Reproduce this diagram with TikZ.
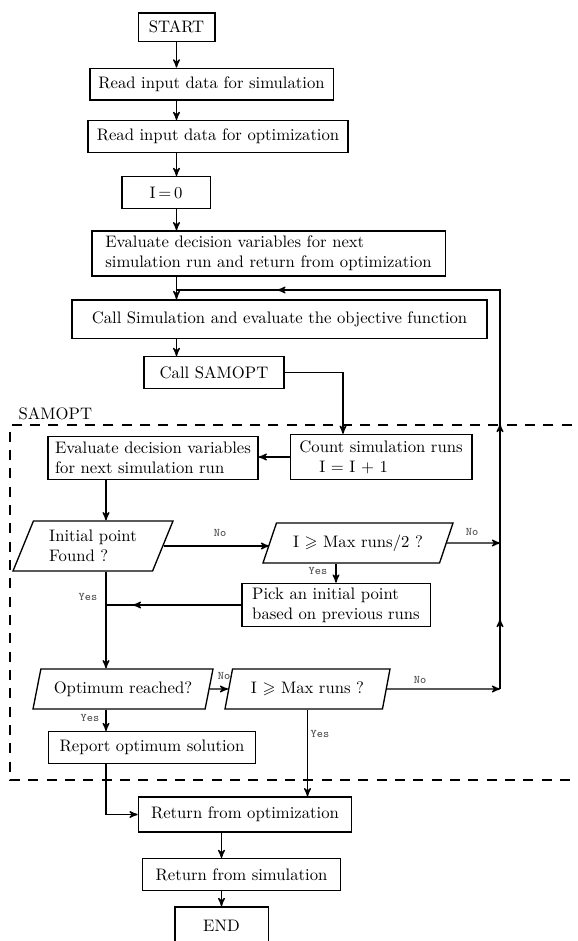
\documentclass[tikz,border=0pt]{standalone}
\usepackage{amsmath, amssymb}
\usetikzlibrary{arrows,shapes.geometric,decorations.markings}

\begin{document}
\begin{tikzpicture}
          [x=0.6pt,y=-0.6pt,thick,>=stealth',
            box/.style={rectangle,draw,inner sep=2pt},
            test/.style={trapezium,draw,trapezium stretches body,inner sep=2pt,
              trapezium left angle=#1,trapezium right angle={180-#1}},
            test/.default=65,
            lbl/.style={font=\ttfamily\scriptsize,text=black!70,inner sep=1pt},
            midarrow/.style={postaction={decorate},
              decoration={markings,mark=at position #1 with {\arrow{>}}}}]
          \useasboundingbox (0,0) rectangle (578,941);
          % main column
          \node[box,minimum width=46pt,minimum height=17pt] (start) at (176.5,27) {START};
          \node[box,minimum width=146pt,minimum height=19pt] (readsim) at (211.5,84) {Read input data for simulation};
          \node[box,minimum width=156pt,minimum height=19pt] (readopt) at (218,136.5) {Read input data for optimization};
          \node[box,minimum width=53pt,minimum height=19pt] (izero) at (166,192.5) {I$\,{=}\,$0};
          \node[box,minimum width=212pt,minimum height=27pt,align=left] (evalnext) at (268.5,253.5) {Evaluate decision variables for next\\simulation run and return from optimization};
          \node[box,minimum width=249pt,minimum height=23pt] (callsim) at (279.5,319) {Call Simulation and evaluate the objective function};
          \node[box,minimum width=84pt,minimum height=19pt] (callsamopt) at (214,372.5) {Call SAMOPT};
          % SAMOPT part
          \draw[dash pattern=on 6pt off 5pt] (590,425) -- (10,425) -- (10,780) -- (590,780);
          \node[anchor=south west,inner sep=0pt] (samoptlbl) at (18,421) {SAMOPT};
          \node[box,minimum width=109pt,minimum height=27pt,align=left] (count) at (381,457) {Count simulation runs\\\hspace{1.2em}I = I + 1};
          \node[box,minimum width=126pt,minimum height=26pt,align=left] (evaldec) at (153,458) {Evaluate decision variables\\for next simulation run};
          \node[test=62,minimum width=96pt,minimum height=30pt,align=left] (initial) at (93,546) {Initial point\\Found ?};
          \node[test=60,minimum width=114pt,minimum height=24pt] (half) at (358,543) {I $\geqslant$ Max runs/2 ?};
          \node[box,minimum width=113pt,minimum height=26pt,align=left] (pick) at (336,605) {Pick an initial point\\based on previous runs};
          \node[test=70,minimum width=108pt,minimum height=24pt] (optimum) at (123,689) {Optimum reached?};
          \node[test=70,minimum width=99pt,minimum height=24pt] (maxruns) at (307.5,689) {I $\geqslant$ Max runs ?};
          \node[box,minimum width=124pt,minimum height=19pt] (report) at (152,747.5) {Report optimum solution};
          % return
          \node[box,minimum width=128pt,minimum height=21pt] (retopt) at (245,814.5) {Return from optimization};
          \node[box,minimum width=119pt,minimum height=19pt] (retsim) at (241.5,874.5) {Return from simulation};
          \node[box,minimum width=56pt,minimum height=23pt] (endbox) at (221.5,926) {END};
          \coordinate (mx) at (106,0);
          \coordinate (join) at (176.5,290);
          \coordinate (looptop) at (500,290);
          \coordinate (loopA) at (500,543);
          \coordinate (loopB) at (500,689);
          \coordinate (tocount) at (343,372.5);
          \foreach \from/\to in {start/readsim,readsim/readopt,readopt/izero,izero/evalnext,callsim/callsamopt}
          \draw[->] (\from.south -| start) -- (\to.north -| start);
          \foreach \from/\to in {retopt/retsim,retsim/endbox}
          \draw[->] (\from.south -| endbox) -- (\to.north -| endbox);
          \draw[->] (evalnext.south -| join) -- (callsim.north -| join);
          \draw[postaction={decorate},decoration={markings,
              mark=at position 42pt with {\arrow{>}},
              mark=at position 159pt with {\arrow{>}},
              mark=at position 373pt with {\arrow{>}}}]
            (loopB) -- (looptop) -- (join);
          \draw[->] (callsamopt.east) -- (tocount) -- (tocount |- count.north);
          \draw[->] (count.west) -- (count.west -| evaldec.east);
          \draw[->] (evaldec.south -| mx) -- (initial.north -| mx);
          \draw[->] (initial.east) -- (initial.east -| half.west);
          \draw[->] (half.east) -- (loopA);
          \draw[->] (half.south -| pick.north) -- (pick.north);
          \draw[midarrow=65pt] (pick.west) -- (pick.west -| mx);
          \draw[->] (initial.south -| mx) -- (optimum.north -| mx);
          \draw[->] (optimum.east) -- (maxruns.west);
          \draw[->] (maxruns.east) -- (loopB);
          \draw[->] (maxruns.south) -- (maxruns.south |- retopt.north);
          \draw[->] (optimum.south -| mx) -- (report.north -| mx);
          \draw[->] (report.south -| mx) |- (retopt.west);
          % yes / no
          \node[lbl] (no1) at (220,533) {No};
          \node[lbl] (no2) at (472,532) {No};
          \node[lbl] (yes1) at (318,571) {Yes};
          \node[lbl] (yes2) at (88,597) {Yes};
          \node[lbl] (no3) at (224,676) {No};
          \node[lbl] (no4) at (420,680) {No};
          \node[lbl] (yes3) at (90,718) {Yes};
          \node[lbl] (yes4) at (320,734) {Yes};
        \end{tikzpicture}
\end{document}
